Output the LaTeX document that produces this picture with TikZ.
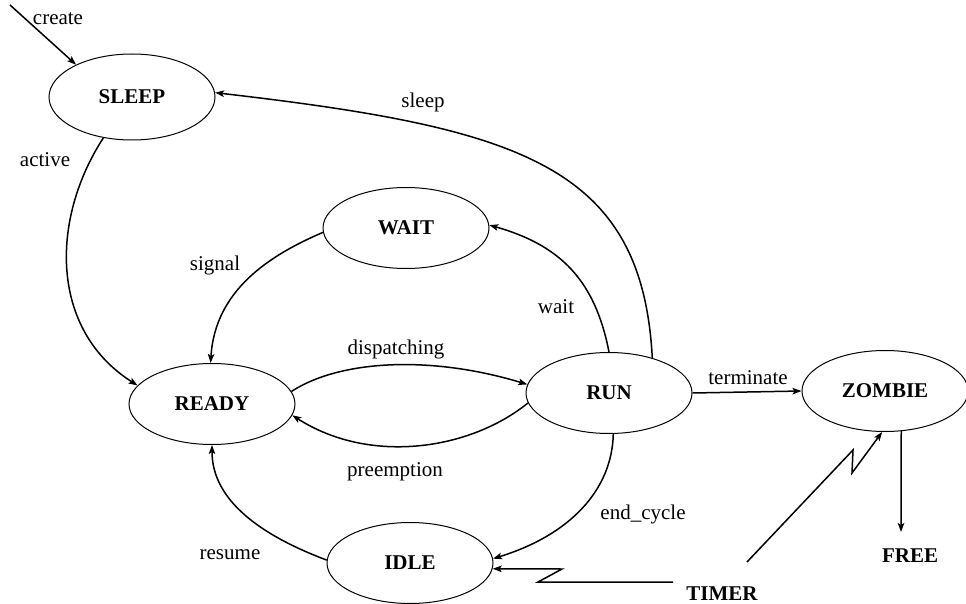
\documentclass[tikz,border=0pt]{standalone}
\usepackage{fontspec}
\setmainfont{Liberation Serif}
\usetikzlibrary{shapes.geometric,arrows.meta}
\begin{document}
\begin{tikzpicture}[x=1pt,y=-1pt,
  state/.style={ellipse,draw,line width=1pt,minimum width=166pt,minimum height=81pt,inner sep=0pt,font=\fontsize{21}{24}\selectfont\bfseries},
  lbl/.style={font=\fontsize{21}{24}\selectfont,inner sep=0pt},
  boldlbl/.style={font=\fontsize{21}{24}\selectfont\bfseries,inner sep=0pt},
  conn/.style={line width=1.5pt,-{Stealth[length=9pt,width=6.5pt,inset=2pt]}},
  plainline/.style={line width=1.5pt}]
\useasboundingbox (0,0) rectangle (966,604);
% states
\node[state,minimum height=86pt] (sleep) at (132,97) {SLEEP};
\node[state] (wait) at (406,228) {WAIT};
\node[state] (ready) at (212,404) {READY};
\node[state] (run) at (609,393) {RUN};
\node[state] (zombie) at (885,391) {ZOMBIE};
\node[state] (idle) at (410,563) {IDLE};
\node[boldlbl] (free) at (910,556) {FREE};
\node[boldlbl] (timer) at (722,594) {TIMER};
% free coordinates
\coordinate (cstart) at (10,5);
\coordinate (freeend) at (901,532);
\coordinate (ta) at (673,582);
\coordinate (tb) at (538,582);
\coordinate (tc) at (562,569);
\coordinate (td) at (747,562);
\coordinate (te) at (853,450);
\coordinate (tf) at (852,473);
% connectors
\draw[conn] (cstart) -- (sleep.150);
\draw[conn] (run.39) .. controls (642,165) and (520,128) .. (sleep.3);
\draw[conn] (sleep.235) .. controls (50,220) and (50,330) .. (ready.166);
\draw[conn] (wait.183) .. controls (270,255) and (215,290) .. (ready.92);
\draw[conn] (run.90) .. controls (595,280) and (560,245) .. (wait.2);
\draw[conn] (ready.9) .. controls (340,360) and (430,355) .. (run.174);
\draw[conn] (run.187) .. controls (470,450) and (370,465) .. (ready.352);
\draw[conn] (run.0) -- (zombie.180);
\draw[conn] (run.276) .. controls (612,490) and (570,535) .. (idle.3);
\draw[conn] (idle.178) .. controls (260,535) and (212,500) .. (ready.270);
\draw[conn] (zombie.292) -- (freeend);
\draw[conn] (ta) -- (tb) -- (tc) -- (idle.356);
\draw[conn] (td) -- (te) -- (tf) -- (zombie.266);
% labels
\node[lbl] (lcreate) at (58,19) {create};
\node[lbl] (lsleep) at (423,102) {sleep};
\node[lbl] (lactive) at (45,160) {active};
\node[lbl] (lsignal) at (215,265) {signal};
\node[lbl] (lwait) at (556,307) {wait};
\node[lbl] (ldisp) at (396,349) {dispatching};
\node[lbl] (lpre) at (395,472) {preemption};
\node[lbl] (lterm) at (748,378) {terminate};
\node[lbl] (lend) at (643,514) {end\_cycle};
\node[lbl] (lres) at (230,555) {resume};
\end{tikzpicture}
\end{document}
